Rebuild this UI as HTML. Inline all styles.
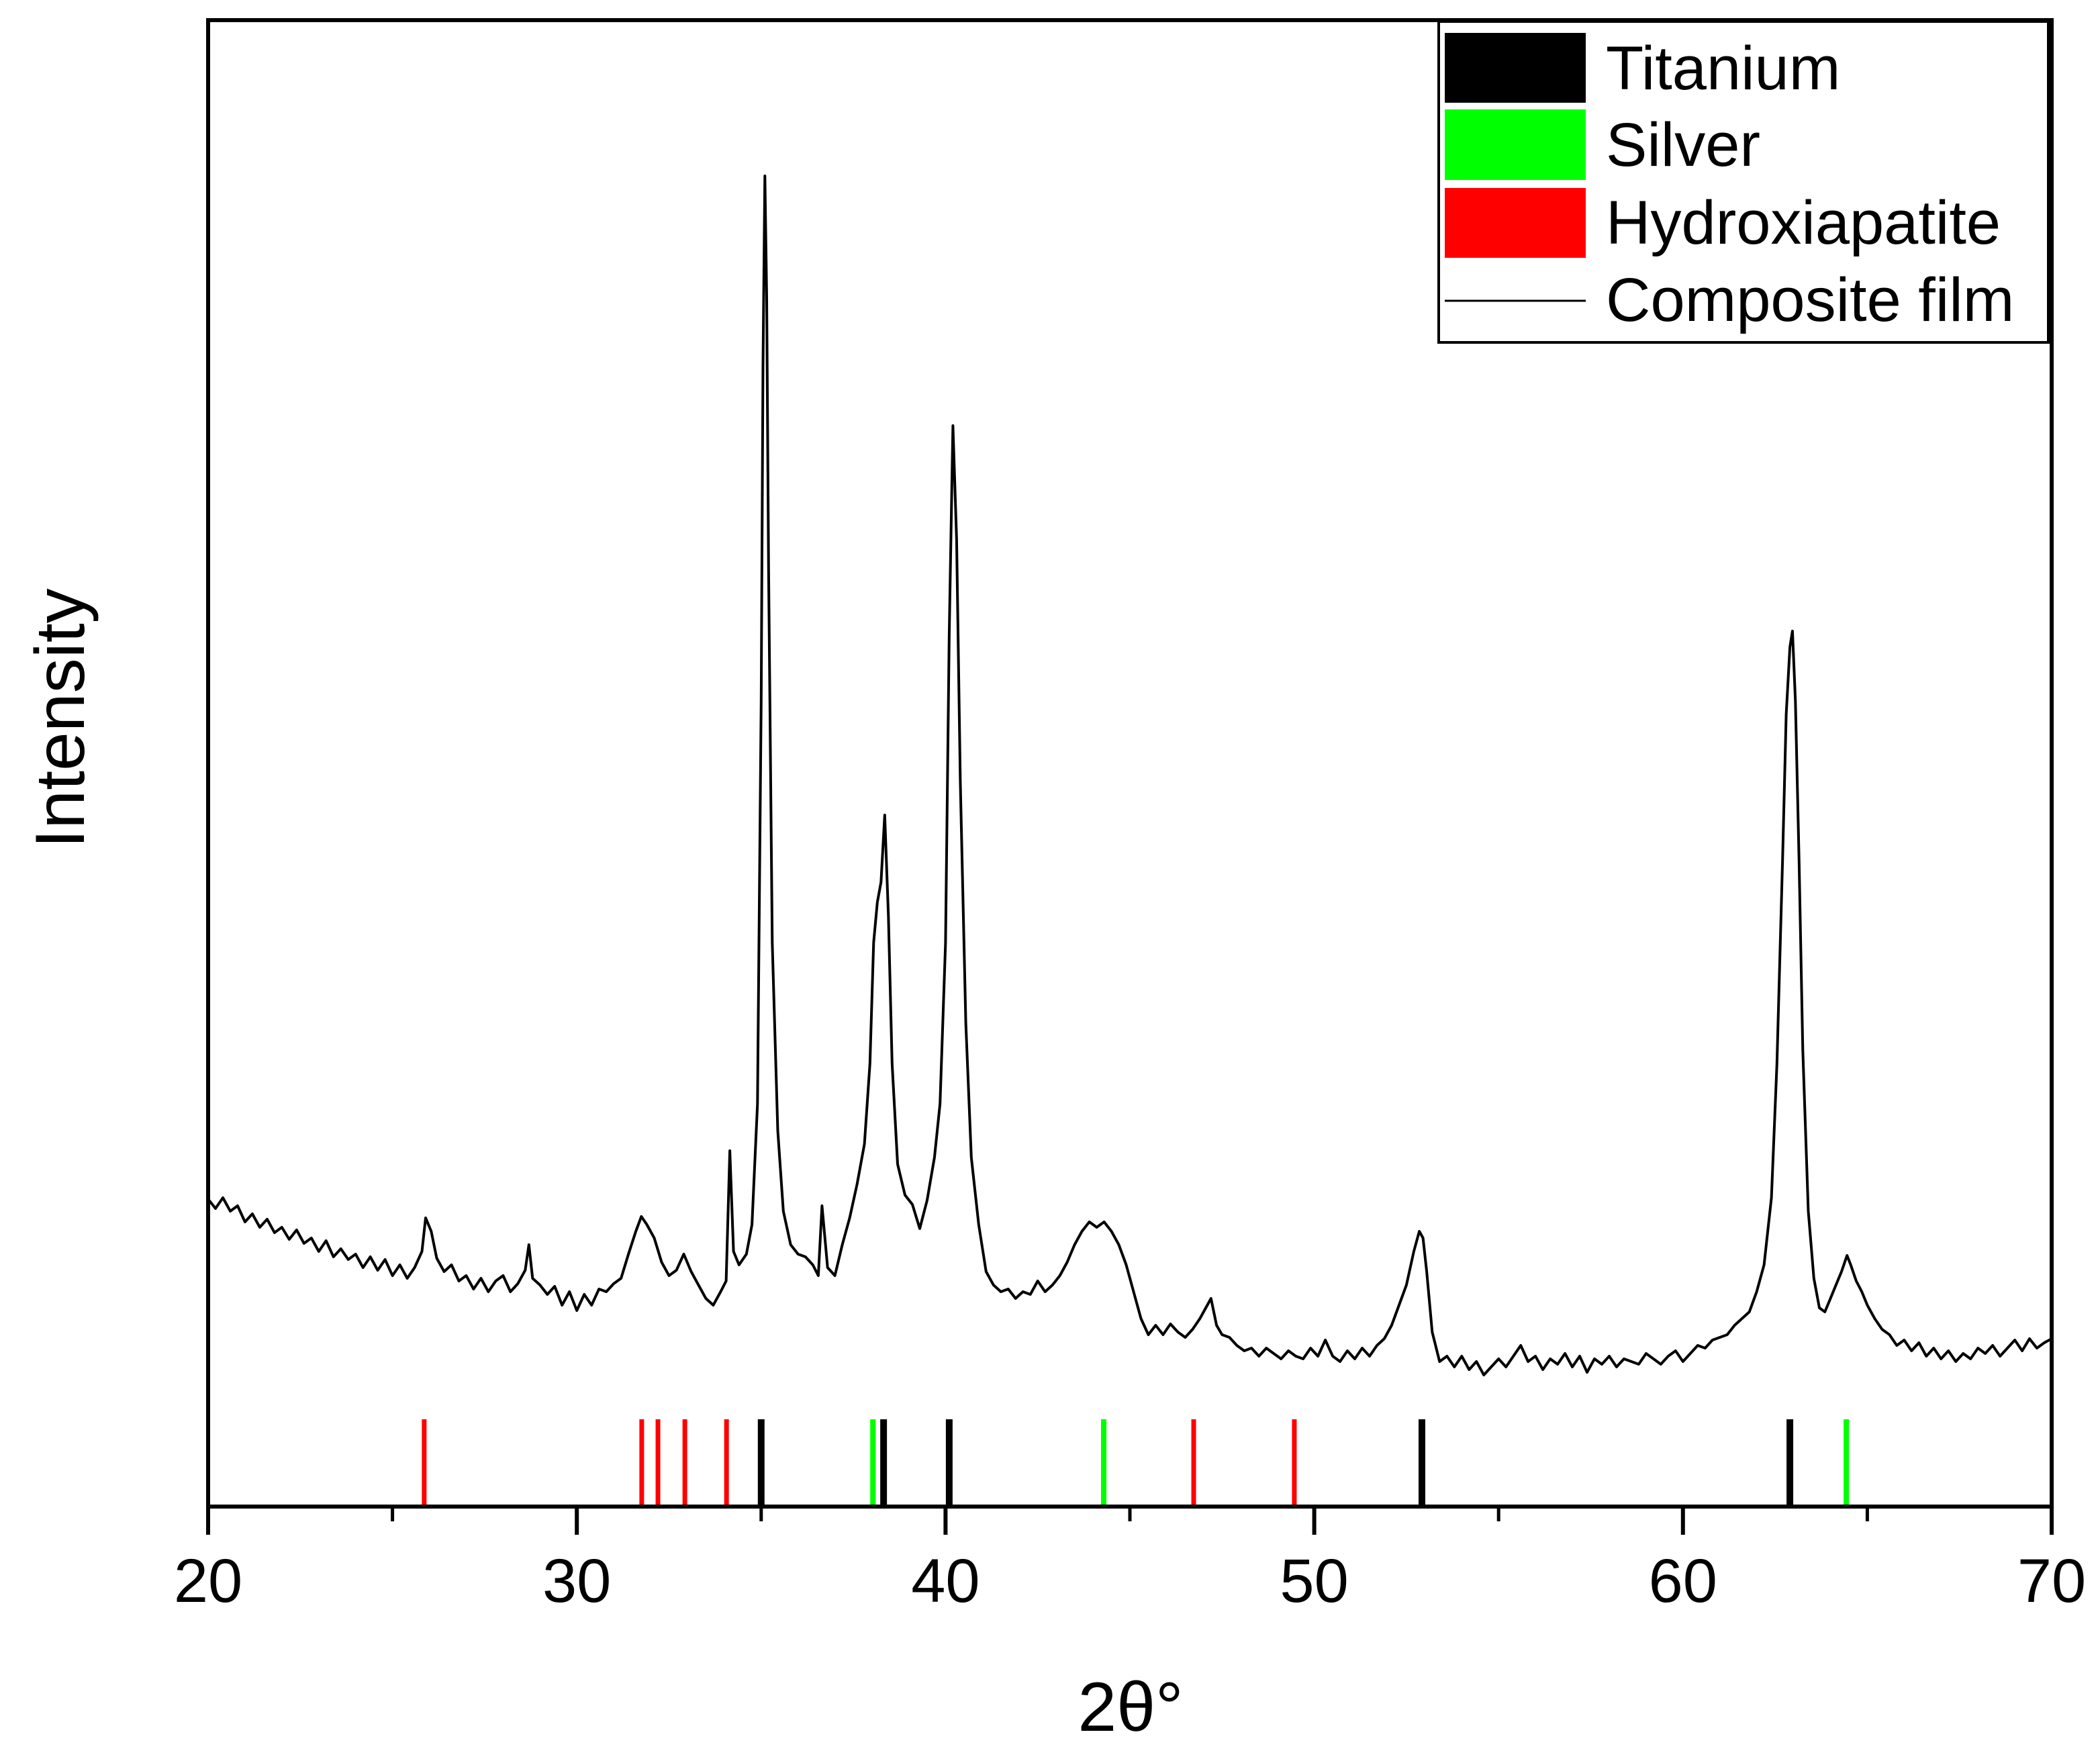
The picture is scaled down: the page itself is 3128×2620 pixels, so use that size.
<!DOCTYPE html>
<html><head><meta charset="utf-8"><style>
html,body{margin:0;padding:0;background:#fff;}
svg text{font-family:"Liberation Sans",Arial,sans-serif;}
</style></head><body>
<svg id="chart" xmlns="http://www.w3.org/2000/svg" width="3128" height="2615" viewBox="0 0 3128 2615">
<rect x="0" y="0" width="3128" height="2615" fill="#fff"/>
<g id="sticks"></g>
<g id="curve"></g>
<rect x="310" y="30" width="2746" height="2214" fill="none" stroke="#000" stroke-width="6"/>
<g id="xticks"></g>
<text x="90" y="1070" font-size="104" text-anchor="middle" dominant-baseline="central" transform="rotate(-90 90 1070)">Intensity</text>
<text x="1684" y="2578" font-size="104" text-anchor="middle">2θ°</text>
<g>
<rect x="2143" y="32" width="908" height="478" fill="#fff" stroke="#000" stroke-width="4"/>
<rect x="2152" y="49" width="210" height="104" fill="#000"/>
<text x="2392" y="133" font-size="92">Titanium</text>
<rect x="2152" y="163" width="210" height="105" fill="#00ff00"/>
<text x="2392" y="247" font-size="92">Silver</text>
<rect x="2152" y="280" width="210" height="104" fill="#ff0000"/>
<text x="2392" y="363" font-size="92">Hydroxiapatite</text>
<line x1="2152" y1="448" x2="2362" y2="448" stroke="#000" stroke-width="3"/>
<text x="2392" y="478" font-size="92">Composite film</text>
</g>
</svg>
<script>
const xTicks = [20,30,40,50,60,70];
const xMinor = [25,35,45,55,65];
const hapPeaks = [25.86,31.76,32.2,32.93,34.06,46.73,49.46];
const tiPeaks = [35.0,38.32,40.1,52.92,62.9];
const agPeaks = [38.03,44.29,64.43];
const twoTheta = [
20.0,20.2,20.4,20.6,20.8,21.0,21.2,21.4,21.6,21.8,
22.0,22.2,22.4,22.6,22.8,23.0,23.2,23.4,23.6,23.8,
24.0,24.2,24.4,24.6,24.8,25.0,25.2,25.4,25.6,25.8,
25.9,26.05,26.2,26.4,26.6,26.8,27.0,27.2,27.4,27.6,
27.8,28.0,28.2,28.4,28.6,28.7,28.8,29.0,29.2,29.4,
29.6,29.8,30.0,30.2,30.4,30.6,30.8,31.0,31.2,31.4,
31.6,31.75,31.9,32.1,32.3,32.5,32.7,32.9,33.1,33.3,
33.5,33.7,33.9,34.05,34.15,34.25,34.4,34.6,34.75,34.9,
35.0,35.05,35.1,35.15,35.2,35.3,35.45,35.6,35.8,36.0,
36.2,36.4,36.55,36.65,36.8,37.0,37.2,37.4,37.6,37.8,
37.95,38.05,38.15,38.25,38.35,38.45,38.55,38.7,38.9,39.1,
39.3,39.5,39.7,39.85,40.0,40.1,40.2,40.3,40.4,40.55,
40.7,40.9,41.1,41.3,41.5,41.7,41.9,42.1,42.3,42.5,
42.7,42.9,43.1,43.3,43.5,43.7,43.9,44.1,44.3,44.5,
44.7,44.9,45.1,45.3,45.5,45.7,45.9,46.1,46.3,46.5,
46.7,46.9,47.1,47.2,47.35,47.5,47.7,47.9,48.1,48.3,
48.5,48.7,48.9,49.1,49.3,49.5,49.7,49.9,50.1,50.3,
50.5,50.7,50.9,51.1,51.3,51.5,51.7,51.9,52.1,52.3,
52.5,52.7,52.85,52.95,53.05,53.2,53.4,53.6,53.8,54.0,
54.2,54.4,54.6,54.8,55.0,55.2,55.4,55.6,55.8,56.0,
56.2,56.4,56.6,56.8,57.0,57.2,57.4,57.6,57.8,58.0,
58.2,58.4,58.6,58.8,59.0,59.2,59.4,59.6,59.8,60.0,
60.2,60.4,60.6,60.8,61.0,61.2,61.4,61.6,61.8,62.0,
62.2,62.4,62.55,62.7,62.8,62.9,62.97,63.05,63.15,63.25,
63.4,63.55,63.7,63.85,64.0,64.15,64.3,64.45,64.55,64.7,
64.85,65.0,65.2,65.4,65.6,65.8,66.0,66.2,66.4,66.6,
66.8,67.0,67.2,67.4,67.6,67.8,68.0,68.2,68.4,68.6,
68.8,69.0,69.2,69.4,69.6,69.8,70.0];
const intensity = [
229,222,230,220,224,212,218,208,214,204,
208,199,206,196,200,190,198,186,192,184,
188,178,186,176,184,172,180,170,178,190,
215,205,185,175,180,168,172,162,170,160,
168,172,160,166,176,195,170,165,158,164,
150,160,146,158,150,162,160,166,170,188,
205,216,210,200,182,172,176,188,175,165,
155,150,160,168,265,190,180,188,210,300,
600,850,991,900,700,420,280,220,195,188,
186,180,172,224,178,172,195,215,240,270,
330,420,450,465,515,440,330,255,232,225,
207,228,260,300,420,650,805,720,540,360,
260,210,175,165,160,162,155,160,158,168,
160,165,172,182,195,205,212,208,212,205,
195,180,160,140,128,135,128,136,130,126,
132,140,150,155,135,128,126,120,116,118,
112,118,114,110,116,112,110,118,112,124,
112,108,116,110,118,112,120,125,135,150,
165,190,205,200,175,130,108,112,104,112,
102,108,98,104,110,104,112,120,108,112,
102,110,106,114,104,112,100,110,106,112,
104,110,108,106,114,110,106,112,116,108,
114,120,118,124,126,128,135,140,145,160,
180,230,330,480,590,640,652,600,480,340,
220,170,148,145,155,165,175,187,180,168,
160,150,140,132,128,120,124,116,122,112,
118,110,116,108,114,110,118,114,120,112,
118,124,116,125,118,122,125];
const NS='http://www.w3.org/2000/svg';
const L=310,R=3056,T=30,B=2244;
function xs(v){return L+(v-20)/(70-20)*(R-L);}
function ys(v){return B-v/1107*(B-T);}
const sticks=document.getElementById('sticks');
function drawSticks(arr,color,w,name){
  arr.forEach(p=>{
    const l=document.createElementNS(NS,'line');
    l.setAttribute('x1',xs(p));l.setAttribute('x2',xs(p));
    l.setAttribute('y1',2114);l.setAttribute('y2',B);
    l.setAttribute('stroke',color);l.setAttribute('stroke-width',w);
    
    
    sticks.appendChild(l);
  });
}
drawSticks(hapPeaks,'#ff0000',7,'hydroxiapatite-stick');
drawSticks(tiPeaks,'#000000',10,'titanium-stick');
drawSticks(agPeaks,'#00ff00',8,'silver-stick');
const curve=document.getElementById('curve');
const path=document.createElementNS(NS,'path');
let d='';
const n=Math.min(twoTheta.length,intensity.length);
for(let i=0;i<n;i++){d+=(i?'L':'M')+xs(twoTheta[i]).toFixed(1)+','+ys(intensity[i]).toFixed(1);}
path.setAttribute('d',d);path.setAttribute('fill','none');
path.setAttribute('stroke','#000');path.setAttribute('stroke-width','4');
path.setAttribute('stroke-linejoin','round');


curve.appendChild(path);
const xt=document.getElementById('xticks');
xTicks.forEach(v=>{
  const l=document.createElementNS(NS,'line');
  l.setAttribute('x1',xs(v));l.setAttribute('x2',xs(v));l.setAttribute('y1',B);l.setAttribute('y2',B+42);
  l.setAttribute('stroke','#000');l.setAttribute('stroke-width',6);
  
  
  xt.appendChild(l);
  const tx=document.createElementNS(NS,'text');
  tx.setAttribute('x',xs(v));tx.setAttribute('y',2386);tx.setAttribute('font-size',92);tx.setAttribute('text-anchor','middle');
  tx.textContent=v;
  
  
  xt.appendChild(tx);
});
xMinor.forEach(v=>{
  const l=document.createElementNS(NS,'line');
  l.setAttribute('x1',xs(v));l.setAttribute('x2',xs(v));l.setAttribute('y1',B);l.setAttribute('y2',B+22);
  l.setAttribute('stroke','#000');l.setAttribute('stroke-width',5);
  
  
  xt.appendChild(l);
});
</script>
</body></html>
